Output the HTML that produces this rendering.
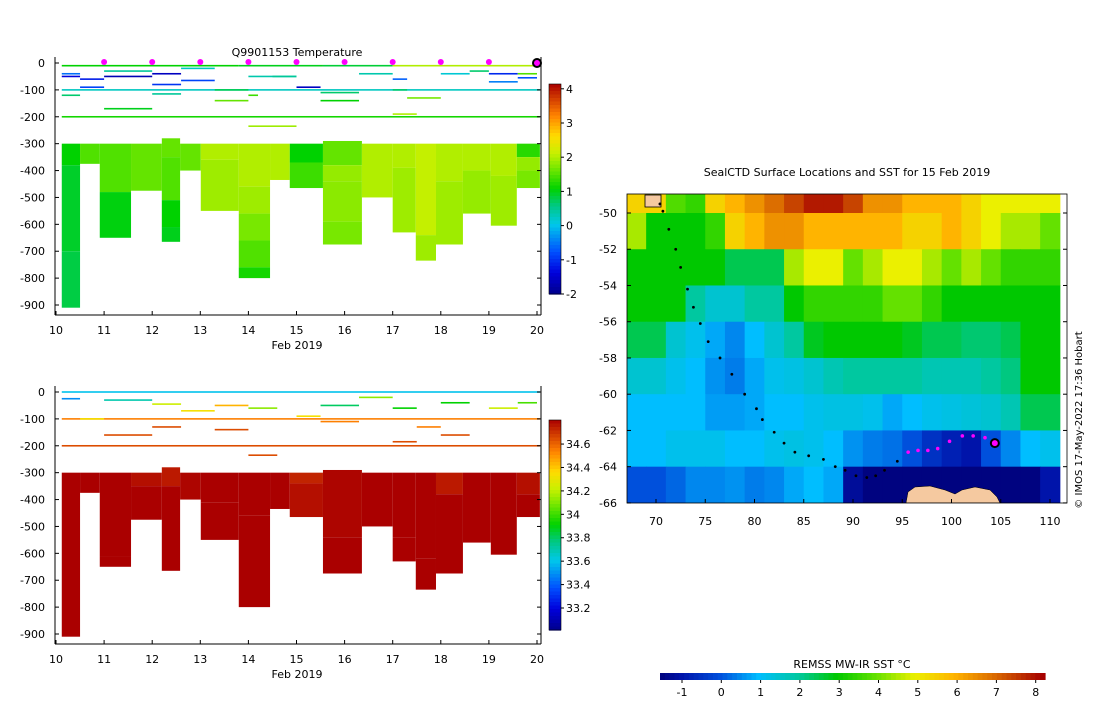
<!DOCTYPE html>
<html><head><meta charset="utf-8">
<style>
body{margin:0;background:#fff;font-family:"Liberation Sans","DejaVu Sans",sans-serif;}
svg text{font-family:"DejaVu Sans","Liberation Sans",sans-serif;font-size:11px;fill:#000;}
</style></head>
<body>
<svg id="root" width="1100" height="700" viewBox="0 0 1100 700" xmlns="http://www.w3.org/2000/svg">
<rect width="1100" height="700" fill="#fff"/>
</svg>
<script>
// ---------- DATA ----------
const colStart=[10.12,10.5,10.91,11.56,12.2,12.58,13.01,13.8,14.45,14.86,15.55,16.36,17.0,17.48,17.9,18.46,19.04,19.58];
const colEnd  =[10.5,10.91,11.56,12.2,12.58,13.01,13.8,14.45,14.86,15.55,16.36,17.0,17.48,17.9,18.46,19.04,19.58,20.06];
const tempSegs=[
 [[300,380,1.0],[380,700,0.85],[700,910,0.75]],
 [[300,375,1.4]],
 [[300,480,1.4],[480,650,0.95]],
 [[300,475,1.5]],
 [[280,350,1.5],[350,510,1.4],[510,610,1.0],[610,665,0.9]],
 [[300,400,1.5]],
 [[300,360,1.9],[360,550,1.8]],
 [[300,460,1.9],[460,560,1.8],[560,660,1.6],[660,760,1.4],[760,800,1.1]],
 [[300,435,1.9]],
 [[300,370,1.0],[370,465,1.3]],
 [[290,380,1.5],[380,440,1.75],[440,590,1.7],[590,675,1.6]],
 [[300,500,1.9]],
 [[300,390,1.9],[390,630,1.8]],
 [[300,640,2.0],[640,735,1.8]],
 [[300,440,1.9],[440,675,1.8]],
 [[300,400,1.9],[400,560,1.75]],
 [[300,420,1.9],[420,605,1.8]],
 [[300,350,1.2],[350,400,1.75],[400,465,1.6]]
];
const salSegs=[
 [[300,910,34.78]],
 [[300,375,34.76]],
 [[300,610,34.78],[610,650,34.76]],
 [[300,350,34.72],[350,475,34.76]],
 [[280,350,34.7],[350,665,34.76]],
 [[300,400,34.74]],
 [[300,410,34.76],[410,550,34.78]],
 [[300,460,34.76],[460,800,34.78]],
 [[300,435,34.76]],
 [[300,340,34.68],[340,465,34.72]],
 [[290,540,34.74],[540,675,34.78]],
 [[300,500,34.76]],
 [[300,540,34.76],[540,630,34.78]],
 [[300,620,34.76],[620,735,34.78]],
 [[300,380,34.7],[380,675,34.76]],
 [[300,560,34.76]],
 [[300,605,34.76]],
 [[300,380,34.72],[380,465,34.76]]
];
const tempLines=[
 [10.12,20.06,200,1.1],[10.12,20.06,100,0.2],[10.12,13.8,10,1.0],[13.8,15.55,10,0.9],[15.55,17.0,10,0.8],[17.0,20.06,10,1.9],
 [10.12,10.5,40,-0.6],[10.12,10.5,50,-1.4],[10.5,11.0,60,-1.2],[10.5,11.0,90,-0.9],[10.12,10.5,120,0.6],
 [11.0,12.0,50,-1.7],[11.0,12.0,30,0.4],[11.0,12.0,170,0.9],[12.0,12.6,40,-1.6],[12.0,12.6,80,-1.0],[12.0,12.6,115,0.4],
 [12.6,13.3,65,-0.9],[12.6,13.3,20,0.2],[13.3,14.0,100,0.7],[13.3,14.0,140,1.5],[14.0,14.2,120,1.3],[14.0,15.0,50,0.3],[14.0,15.0,235,1.8],
 [14.5,15.0,50,0.4],[15.0,15.5,90,-1.6],[15.5,16.3,110,0.6],[15.5,16.3,140,1.0],[16.3,17.0,40,0.3],[17.0,17.3,60,-0.7],[17.0,17.3,100,0.6],[17.0,17.5,190,1.9],
 [17.3,18.0,130,1.6],[18.0,18.6,40,0.1],[18.6,19.0,30,0.6],[19.0,19.6,70,-0.5],[19.0,19.6,40,-1.1],[19.6,20.0,55,-0.8],[19.6,20.0,40,1.4]
];
const salLines=[
 [10.12,20.06,200,34.6],[10.12,20.06,0,33.6],[10.12,20.06,100,34.5],[10.12,10.5,25,33.5],[10.5,11.0,100,34.3],[11.0,12.0,30,33.7],
 [11.0,12.0,160,34.6],[12.0,12.6,45,34.2],[12.0,12.6,130,34.6],[12.6,13.3,70,34.3],[13.3,14.0,50,34.4],[13.3,14.0,140,34.6],[14.0,14.6,60,34.1],
 [14.0,14.6,235,34.6],[15.0,15.5,90,34.3],[15.5,16.3,110,34.5],[15.5,16.3,50,33.8],[16.3,17.0,20,34.1],[17.0,17.5,60,33.9],[17.0,17.5,185,34.6],
 [17.5,18.0,130,34.5],[18.0,18.6,40,33.9],[18.0,18.6,160,34.6],[19.0,19.6,60,34.2],[19.6,20.0,40,34.0]
];
const markerDays=[11,12,13,14,15,16,17,18,19];
const dayTicks=[10,11,12,13,14,15,16,17,18,19,20];
const depthTicks=[0,-100,-200,-300,-400,-500,-600,-700,-800,-900];
const tempTicks=[4,3,2,1,0,-1,-2];
const salTicks=[34.6,34.4,34.2,34,33.8,33.6,33.4,33.2];
// SST grid: cell [lon..lon+2] x [lat..lat-2]
const sstLon=[67,69,71,73,75,77,79,81,83,85,87,89,91,93,95,97,99,101,103,105,107,109];
const sstLat=[-48,-50,-52,-54,-56,-58,-60,-62,-64];
const sstGrid=[
 [5.5,5.5,3.8,3.5,5.5,6,6.5,7,7.5,8,8,7.5,6.5,6.5,6,6,6,5.5,5,5,5,5],
 [4.5,3,3,3,3.5,5.5,6,6.5,6.5,6,6,6,6,6,5.5,5.5,6,5.5,5,4.5,4.5,4],
 [3,3,3,3,3,2.5,2.5,2.5,4.5,5,5,4,4.5,5,5,4.5,4,4.5,4,3.5,3.5,3.5],
 [3,3,3,2,1.5,1.5,2,2,3,3.5,3.5,3.5,3.5,4,4,3.5,3,3,3,3,3,3],
 [2.5,2.5,1.5,1.2,0.8,0.5,1,1.5,2,2.8,3,3,3,3,2.8,2.5,2.5,2.3,2.3,2.5,3,3],
 [1.5,1.5,1.2,1,0.6,0.4,0.8,1.2,1.3,1.5,1.8,2,2,2,2,1.8,1.8,1.8,2,2.2,3,3],
 [1,1,1,1,0.7,0.7,0.8,1,1,1.2,1.3,1.3,1.2,0.8,1,1.2,1.3,1.4,1.5,1.8,2.5,2.5],
 [1,1,1.2,1.2,1.2,1,1,1.2,1.3,1.2,1,0.6,0.4,0.3,0,-0.5,-0.8,-1,0,0.5,1,1.2],
 [0,0,0.2,0.5,0.5,0.6,0.4,0.5,0.8,1,0.8,-1.2,-1.5,-1.5,-1.5,-1.5,-1.5,-1.5,-1.5,-1.5,-1.5,-1]
];
const trackLon=[70.4,70.7,71.3,72,72.5,73.2,73.8,74.5,75.3,76.5,77.7,79,80.2,80.8,82,83,84.1,85.5,87,88.2,89.2,90.3,91.4,92.3,93.2,94.5,95.6,96.6,97.6,98.6,99.8,101.1,102.2,103.4,104.4];
const trackLat=[-49.5,-49.9,-50.9,-52,-53,-54.2,-55.2,-56.1,-57.1,-58,-58.9,-60,-60.8,-61.4,-62.1,-62.7,-63.2,-63.4,-63.6,-64,-64.2,-64.5,-64.6,-64.5,-64.2,-63.7,-63.2,-63.1,-63.1,-63,-62.6,-62.3,-62.3,-62.4,-62.7];
const sstTicks=[-1,0,1,2,3,4,5,6,7,8];
const lonTicks=[70,75,80,85,90,95,100,105,110];
const latTicks=[-50,-52,-54,-56,-58,-60,-62,-64,-66];

// ---------- helpers ----------
const NS='http://www.w3.org/2000/svg';
const root=document.getElementById('root');
function mk(tag,attrs,parent){const e=document.createElementNS(NS,tag);for(const k in attrs)e.setAttribute(k,attrs[k]);(parent||root).appendChild(e);return e;}
function lerpStops(stops,v){if(v<=stops[0][0])return 'rgb('+stops[0][1].join(',')+')';if(v>=stops[stops.length-1][0])return 'rgb('+stops[stops.length-1][1].join(',')+')';
 for(let i=0;i<stops.length-1;i++){const a=stops[i],b=stops[i+1];if(v>=a[0]&&v<=b[0]){const t=(v-a[0])/(b[0]-a[0]);
 const c=a[1].map((x,j)=>Math.round(x+(b[1][j]-x)*t));return 'rgb('+c.join(',')+')';}}}
const jet=[[0,[0,0,140]],[0.1,[0,0,220]],[0.2,[0,80,255]],[0.33,[0,200,235]],[0.42,[0,200,130]],[0.5,[0,210,0]],[0.6,[120,232,0]],[0.67,[200,240,0]],[0.75,[255,220,0]],[0.85,[255,130,0]],[1,[170,0,0]]];
function cmap(v,lo,hi){return lerpStops(jet,(v-lo)/(hi-lo));}
const sstStops=[[-1.6,[0,0,120]],[-1,[0,20,170]],[0,[0,80,220]],[1,[0,190,255]],[2,[0,200,160]],[3,[0,200,0]],[4,[100,225,0]],[5,[235,240,0]],[6,[255,180,0]],[7,[220,110,0]],[8.3,[165,0,0]]];
const tempC=v=>cmap(v,-2,4), salC=v=>cmap(v,33.05,34.75), sstC=v=>lerpStops(sstStops,v);

// ---------- profile panels ----------
function panel(y0,name,segs,lines,colfn,title){
 const X=d=>56+(d-10)*48.1, Y=z=>y0+z*0.2689;
 const g=mk('g',{});
 
 for(let i=0;i<colStart.length;i++){
  for(const s of segs[i]){
   const r=mk('rect',{x:X(colStart[i]),y:Y(s[0]),width:X(colEnd[i])-X(colStart[i]),height:Y(s[1])-Y(s[0]),fill:colfn(s[2])},g);
   
   
  }
 }
 for(const l of lines){
  const r=mk('rect',{x:X(l[0]),y:Y(l[2])-0.8,width:X(l[1])-X(l[0]),height:1.6,fill:colfn(l[3])},g);
  
  
 }
 mk('line',{x1:55,y1:y0-6,x2:55,y2:y0+252,stroke:'#000'},g);
 mk('line',{x1:55,y1:y0+252,x2:541,y2:y0+252,stroke:'#000'},g);
 mk('line',{x1:541,y1:y0-6,x2:541,y2:y0+252,stroke:'#000'},g);
 for(const t of depthTicks){const y=Y(-t);mk('line',{x1:55,y1:y,x2:59,y2:y,stroke:'#000'},g);mk('line',{x1:537,y1:y,x2:541,y2:y,stroke:'#000'},g);
  const tx=mk('text',{x:45,y:y+4,'text-anchor':'end'},g);tx.textContent=t;}
 for(const d of dayTicks){const x=X(d);mk('line',{x1:x,y1:y0+248,x2:x,y2:y0+252,stroke:'#000'},g);
  const tx=mk('text',{x:x,y:y0+271,'text-anchor':'middle'},g);tx.textContent=d;}
 const xl=mk('text',{x:297,y:y0+286,'text-anchor':'middle'},g);xl.textContent='Feb 2019';
 
 if(title){const tt=mk('text',{x:297,y:y0-7,'text-anchor':'middle'},g);tt.textContent=title;
  }
 return {X,Y,g};
}
const p1=panel(63,'temperature-panel',tempSegs,tempLines,tempC,'Q9901153  Temperature');
for(const d of markerDays){const c=mk('circle',{cx:p1.X(d),cy:62,r:3,fill:'#f0f'});
 }
const lastM=mk('circle',{cx:p1.X(20),cy:63,r:4,fill:'#f0f',stroke:'#000','stroke-width':2});

const p2=panel(392,'salinity-panel',salSegs,salLines,salC,null);

function vbar(x,yTop,yBot,lo,hi,fn,ticks,tickY,name){
 const g=mk('g',{});
 const n=60;for(let i=0;i<n;i++){const v=hi-(hi-lo)*(i+0.5)/n;mk('rect',{x:x,y:yTop+(yBot-yTop)*i/n,width:12,height:(yBot-yTop)/n+0.6,fill:fn(v)},g);}
 mk('rect',{x:x,y:yTop,width:12,height:yBot-yTop,fill:'none',stroke:'#000','stroke-width':0.6},g);
 for(const t of ticks){const y=tickY(t);mk('line',{x1:x+12,y1:y,x2:x+15,y2:y,stroke:'#000'},g);
  const tx=mk('text',{x:x+17,y:y+4},g);tx.textContent=t;}
}
vbar(549,84,294,-2,4,tempC,tempTicks,t=>294-(t+2)*34.2,'temperature-colorbar');
vbar(549,420,630,33.05,34.75,salC,salTicks,t=>608-(t-33.2)*117.1,'salinity-colorbar');

// ---------- map ----------
const LX=lon=>656+(lon-70)*9.85, LY=lat=>213+(-50-lat)*18.12;
const mg=mk('g',{});
const defs=mk('defs',{},mg);
const cpth=mk('clipPath',{id:'mc'},defs);mk('rect',{x:627,y:194,width:440,height:309},cpth);
const cells=mk('g',{'clip-path':'url(#mc)'},mg);
for(let r=0;r<sstLat.length;r++)for(let c=0;c<sstLon.length;c++){
 const x0=LX(sstLon[c]),x1=LX(sstLon[c]+2),y0=LY(sstLat[r]),y1=LY(sstLat[r]-2);
 const e=mk('rect',{x:x0,y:y0,width:x1-x0+0.5,height:y1-y0+0.5,fill:sstC(sstGrid[r][c])},cells);
 
}
const land=mk('path',{d:'M906,503 L908,492 L915,487 L930,486 L945,490 L955,494 L962,490 L975,487 L990,490 L997,497 L1000,503 Z',fill:'#f5c9a0',stroke:'#000','stroke-width':0.5},cells);

const isl=mk('rect',{x:645,y:195,width:16,height:12,fill:'#f5c9a0',stroke:'#000','stroke-width':0.8},cells);

mk('rect',{x:627,y:194,width:440,height:309,fill:'none',stroke:'#000','stroke-width':0.8},mg);
for(let i=0;i<trackLon.length;i++){
 const mag=trackLon[i]>95;
 const d=mk('circle',{cx:LX(trackLon[i]),cy:LY(trackLat[i]),r:mag?1.8:1.4,fill:mag?'#f0f':'#000'},mg);
 
}
const cur=mk('circle',{cx:LX(trackLon[trackLon.length-1]),cy:LY(trackLat[trackLat.length-1]),r:4,fill:'#f0f',stroke:'#000','stroke-width':2},mg);

for(const t of latTicks){const y=LY(t);mk('line',{x1:627,y1:y,x2:631,y2:y,stroke:'#000'},mg);mk('line',{x1:1063,y1:y,x2:1067,y2:y,stroke:'#000'},mg);
 const tx=mk('text',{x:617,y:y+4,'text-anchor':'end'},mg);tx.textContent=t;}
for(const t of lonTicks){const x=LX(t);mk('line',{x1:x,y1:499,x2:x,y2:503,stroke:'#000'},mg);
 const tx=mk('text',{x:x,y:525,'text-anchor':'middle'},mg);tx.textContent=t;}
const mt=mk('text',{x:847,y:176,'text-anchor':'middle'});mt.textContent='SealCTD Surface Locations and SST for 15 Feb 2019';

const cp=mk('text',{x:1082,y:420,'text-anchor':'middle',transform:'rotate(-90 1082 420)',style:'font-size:10px'});
cp.textContent='© IMOS 17-May-2022 17:36 Hobart';


const hb=mk('g',{});
const HX=v=>682+(v+1)*39.3;
for(let i=0;i<80;i++){const v=-1.55+(9.9)*(i+0.5)/80;mk('rect',{x:660+385*i/80,y:673,width:385/80+0.6,height:7,fill:sstC(v)},hb);}
for(const t of sstTicks){const x=HX(t);mk('line',{x1:x,y1:680,x2:x,y2:683,stroke:'#000'},hb);
 const tx=mk('text',{x:x,y:696,'text-anchor':'middle'},hb);tx.textContent=t;}
const ht=mk('text',{x:852,y:668,'text-anchor':'middle'},hb);ht.textContent='REMSS MW-IR SST °C';
</script>
</body></html>
